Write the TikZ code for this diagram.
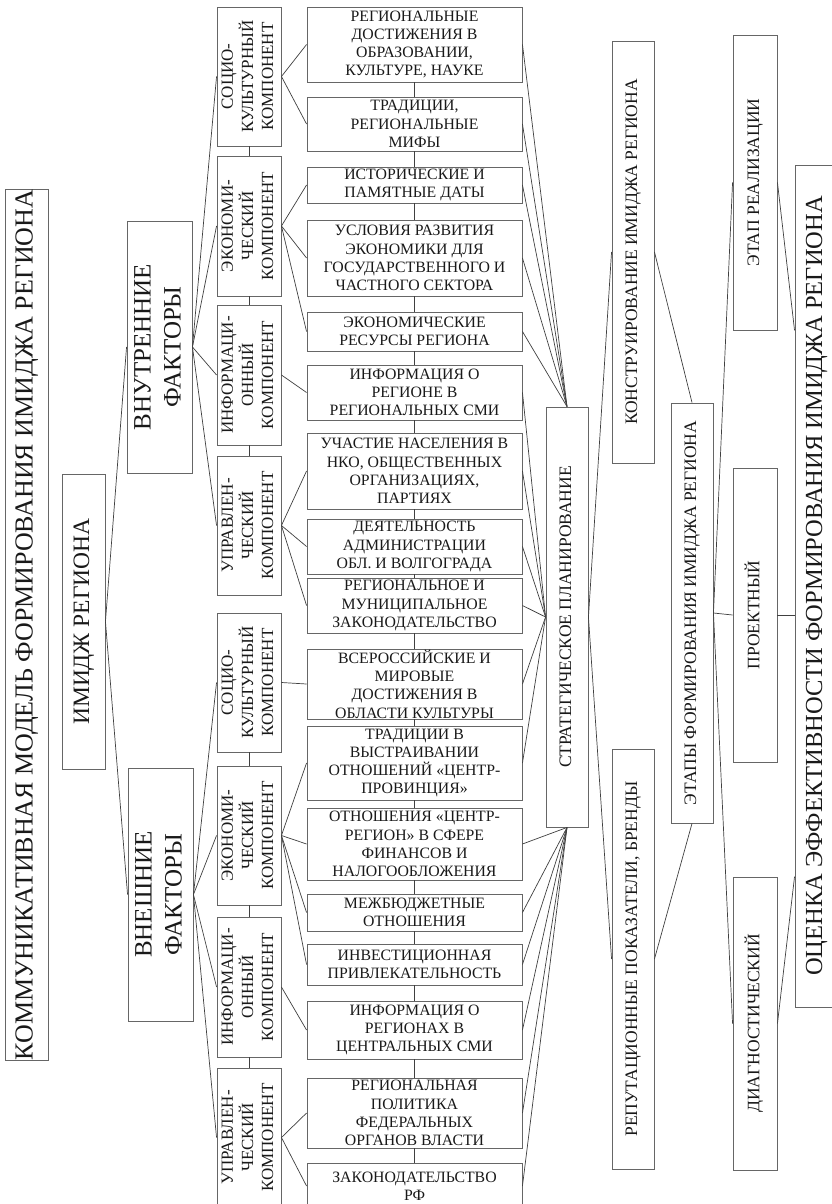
\documentclass[tikz,border=0pt]{standalone}
\usepackage{fontspec}
\setmainfont{Liberation Serif}
\usepackage{graphicx}
\newcommand\rt[1]{\rotatebox{90}{\begin{tabular}{@{}c@{}}#1\end{tabular}}}
\begin{document}
\begin{tikzpicture}[x=1pt,y=-1pt,
 bx/.style={draw=black!60, line width=0.9pt, inner sep=0pt, text=black!90},
 ln/.style={draw=black!75, line width=0.7pt},
 sz/.style 2 args={minimum width=#1pt, minimum height=#2pt},
 item/.style={bx, align=center, font=\fontsize{15.8}{18.3}\selectfont, minimum width=215pt},
 comp/.style={bx, font=\fontsize{17}{20}\selectfont, minimum width=64pt},
 side/.style={bx, font=\fontsize{17.5}{20}\selectfont},
]
\useasboundingbox (0,0) rectangle (832,1204);
\fill[white] (0,0) rectangle (832,1204);

% left column
\node[bx, sz={43}{844}, font=\fontsize{26}{30}\selectfont] (title) at (26.5,625) {\rt{КОММУНИКАТИВНАЯ МОДЕЛЬ ФОРМИРОВАНИЯ ИМИДЖА РЕГИОНА}};
\node[bx, sz={43}{295}, font=\fontsize{23.5}{28}\selectfont] (imidzh) at (83.5,621.5) {\rt{ИМИДЖ РЕГИОНА}};
\node[bx, sz={65}{252}, font=\fontsize{25}{30}\selectfont] (vnutr) at (159.5,347) {\rt{ВНУТРЕННИЕ\\ФАКТОРЫ}};
\node[bx, sz={65}{253}, font=\fontsize{25}{30}\selectfont] (vnesh) at (160.5,894.5) {\rt{ВНЕШНИЕ\\ФАКТОРЫ}};

% components
\node[comp, minimum height=139pt] (c1) at (249,76.5) {\rt{СОЦИО-\\КУЛЬТУРНЫЙ\\КОМПОНЕНТ}};
\node[comp, minimum height=140pt] (c2) at (249,226) {\rt{ЭКОНОМИ-\\ЧЕСКИЙ\\КОМПОНЕНТ}};
\node[comp, minimum height=140pt] (c3) at (249,375) {\rt{ИНФОРМАЦИ-\\ОННЫЙ\\КОМПОНЕНТ}};
\node[comp, minimum height=139pt] (c4) at (249,525.5) {\rt{УПРАВЛЕН-\\ЧЕСКИЙ\\КОМПОНЕНТ}};
\node[comp, minimum height=139pt] (c5) at (249,682.5) {\rt{СОЦИО-\\КУЛЬТУРНЫЙ\\КОМПОНЕНТ}};
\node[comp, minimum height=139pt] (c6) at (249,835.5) {\rt{ЭКОНОМИ-\\ЧЕСКИЙ\\КОМПОНЕНТ}};
\node[comp, minimum height=140pt] (c7) at (249,987) {\rt{ИНФОРМАЦИ-\\ОННЫЙ\\КОМПОНЕНТ}};
\node[comp, minimum height=139pt] (c8) at (249,1137.5) {\rt{УПРАВЛЕН-\\ЧЕСКИЙ\\КОМПОНЕНТ}};

% items
\node[item, minimum height=75pt] (i1) at (414.5,44.5) {РЕГИОНАЛЬНЫЕ\\ДОСТИЖЕНИЯ В\\ОБРАЗОВАНИИ,\\КУЛЬТУРЕ, НАУКЕ};
\node[item, minimum height=54pt] (i2) at (414.5,124) {ТРАДИЦИИ,\\РЕГИОНАЛЬНЫЕ\\МИФЫ};
\node[item, minimum height=36pt] (i3) at (414.5,185) {ИСТОРИЧЕСКИЕ И\\ПАМЯТНЫЕ ДАТЫ};
\node[item, minimum height=76pt] (i4) at (414.5,258) {УСЛОВИЯ РАЗВИТИЯ\\ЭКОНОМИКИ ДЛЯ\\ГОСУДАРСТВЕННОГО И\\ЧАСТНОГО СЕКТОРА};
\node[item, minimum height=39pt] (i5) at (414.5,331.5) {ЭКОНОМИЧЕСКИЕ\\РЕСУРСЫ РЕГИОНА};
\node[item, minimum height=55pt] (i6) at (414.5,392.5) {ИНФОРМАЦИЯ О\\РЕГИОНЕ В\\РЕГИОНАЛЬНЫХ СМИ};
\node[item, minimum height=76pt] (i7) at (414.5,471) {УЧАСТИЕ НАСЕЛЕНИЯ В\\НКО, ОБЩЕСТВЕННЫХ\\ОРГАНИЗАЦИЯХ,\\ПАРТИЯХ};
\node[item, minimum height=55pt] (i8) at (414.5,546.5) {ДЕЯТЕЛЬНОСТЬ\\АДМИНИСТРАЦИИ\\ОБЛ. И ВОЛГОГРАДА};
\node[item, minimum height=55pt] (i9) at (414.5,605.5) {РЕГИОНАЛЬНОЕ И\\МУНИЦИПАЛЬНОЕ\\ЗАКОНОДАТЕЛЬСТВО};
\node[item, minimum height=70pt] (i10) at (414.5,684) {ВСЕРОССИЙСКИЕ И\\МИРОВЫЕ\\ДОСТИЖЕНИЯ В\\ОБЛАСТИ КУЛЬТУРЫ};
\node[item, minimum height=74pt] (i11) at (414.5,763) {ТРАДИЦИИ В\\ВЫСТРАИВАНИИ\\ОТНОШЕНИЙ «ЦЕНТР-\\ПРОВИНЦИЯ»};
\node[item, minimum height=72pt] (i12) at (414.5,844) {ОТНОШЕНИЯ «ЦЕНТР-\\РЕГИОН» В СФЕРЕ\\ФИНАНСОВ И\\НАЛОГООБЛОЖЕНИЯ};
\node[item, minimum height=37pt] (i13) at (414.5,912.5) {МЕЖБЮДЖЕТНЫЕ\\ОТНОШЕНИЯ};
\node[item, minimum height=41pt] (i14) at (414.5,964.5) {ИНВЕСТИЦИОННАЯ\\ПРИВЛЕКАТЕЛЬНОСТЬ};
\node[item, minimum height=58pt] (i15) at (414.5,1030) {ИНФОРМАЦИЯ О\\РЕГИОНАХ В\\ЦЕНТРАЛЬНЫХ СМИ};
\node[item, minimum height=70pt] (i16) at (414.5,1113) {РЕГИОНАЛЬНАЯ\\ПОЛИТИКА\\ФЕДЕРАЛЬНЫХ\\ОРГАНОВ ВЛАСТИ};
\node[item, minimum height=46pt] (i17) at (414.5,1186) {ЗАКОНОДАТЕЛЬСТВО\\РФ};

% right part
\node[side, sz={42}{420}] (strat) at (567,617) {\rt{СТРАТЕГИЧЕСКОЕ ПЛАНИРОВАНИЕ}};
\node[side, sz={42}{422}] (konstr) at (633,252) {\rt{КОНСТРУИРОВАНИЕ ИМИДЖА РЕГИОНА}};
\node[side, sz={42}{420}] (reput) at (633,959) {\rt{РЕПУТАЦИОННЫЕ ПОКАЗАТЕЛИ, БРЕНДЫ}};
\node[side, sz={42}{420}] (etapy) at (692,613) {\rt{ЭТАПЫ ФОРМИРОВАНИЯ ИМИДЖА РЕГИОНА}};
\node[side, sz={44}{295}] (realiz) at (755,182.5) {\rt{ЭТАП РЕАЛИЗАЦИИ}};
\node[side, sz={44}{294}] (proj) at (755,615) {\rt{ПРОЕКТНЫЙ}};
\node[side, sz={44}{293}] (diag) at (755,1023.5) {\rt{ДИАГНОСТИЧЕСКИЙ}};
\node[bx, sz={43}{842}, font=\fontsize{24.5}{28}\selectfont] (ocenka) at (816.5,586) {\rt{ОЦЕНКА ЭФФЕКТИВНОСТИ ФОРМИРОВАНИЯ ИМИДЖА РЕГИОНА}};

% connectors
\draw[ln] (imidzh.east) -- (vnutr.west);
\draw[ln] (imidzh.east) -- (vnesh.west);
\foreach \c in {c1,c2,c3,c4} \draw[ln] (vnutr.east) -- (\c.west);
\foreach \c in {c5,c6,c7,c8} \draw[ln] (vnesh.east) -- (\c.west);
\foreach \a/\b in {c1/c2,c2/c3,c3/c4,c5/c6,c6/c7,c7/c8} \draw[ln] (\a.south) -- (\b.north);
\foreach \a/\b in {c1/i1,c1/i2,c2/i3,c2/i4,c2/i5,c3/i6,c4/i7,c4/i8,c4/i9,c5/i10,c6/i11,c6/i12,c6/i13,c6/i14,c7/i15,c8/i16,c8/i17}
  \draw[ln] (\a.east) -- (\b.west);
\foreach \a/\b in {1/2,2/3,3/4,4/5,5/6,6/7,7/8,8/9,9/10,10/11,11/12,12/13,13/14,14/15,15/16,16/17}
  \draw[ln] (i\a.south) -- (i\b.north);
\foreach \a in {i1,i2,i3,i4,i5} \draw[ln] (\a.east) -- (strat.north);
\foreach \a in {i6,i7,i8,i9,i10,i11} \draw[ln] (\a.east) -- (strat.west);
\foreach \a in {i12,i13,i14,i15,i16,i17} \draw[ln] (\a.east) -- (strat.south);
\draw[ln] (strat.east) -- (konstr.west);
\draw[ln] (strat.east) -- (reput.west);
\draw[ln] (konstr.east) -- (etapy.north);
\draw[ln] (reput.east) -- (etapy.south);
\draw[ln] (etapy.east) -- (realiz.west);
\draw[ln] (etapy.east) -- (proj.west);
\draw[ln] (etapy.east) -- (diag.west);
\draw[ln] (realiz.east) -- (ocenka.west |- realiz.south);
\draw[ln] (proj.east) -- (ocenka.west |- proj.east);
\draw[ln] (diag.east) -- (ocenka.west |- diag.north);
\end{tikzpicture}
\end{document}
